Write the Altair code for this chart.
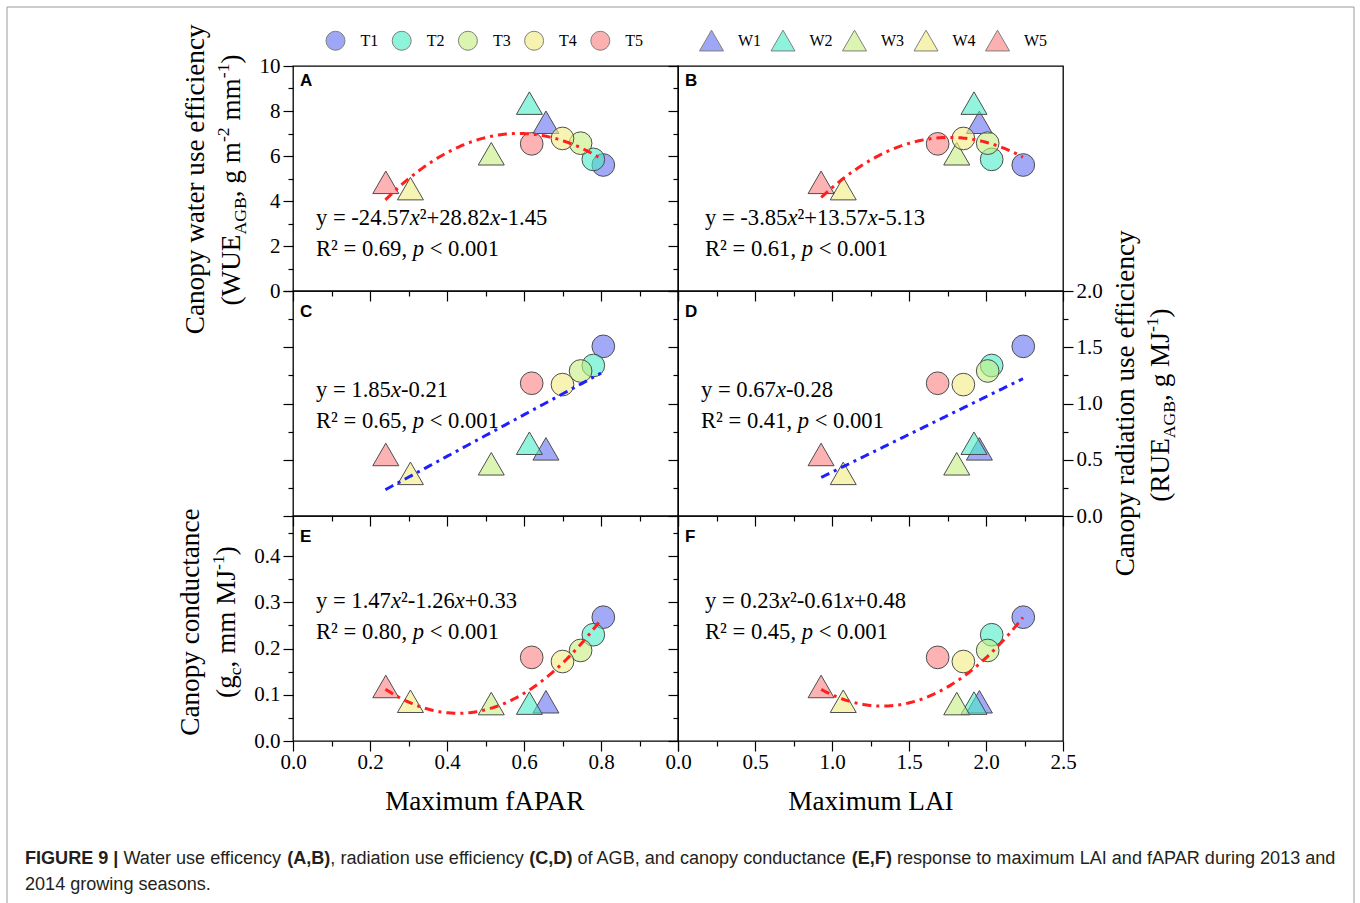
import altair as alt
import pandas as pd

# ---------------- data ----------------
treat_T = ["T1", "T2", "T3", "T4", "T5"]
treat_W = ["W1", "W2", "W3", "W4", "W5"]
fapar_T = [0.806, 0.780, 0.747, 0.700, 0.620]
fapar_W = [0.657, 0.614, 0.515, 0.305, 0.241]
lai_T = [2.242, 2.037, 2.011, 1.853, 1.686]
lai_W = [1.957, 1.922, 1.810, 1.073, 0.929]
wue_T = [5.60, 5.85, 6.57, 6.78, 6.54]
wue_W = [7.50, 8.35, 6.10, 4.55, 4.83]
rue_T = [1.508, 1.338, 1.289, 1.168, 1.180]
rue_W = [0.597, 0.647, 0.464, 0.379, 0.547]
gc_T = [0.268, 0.230, 0.196, 0.172, 0.181]
gc_W = [0.085, 0.082, 0.081, 0.086, 0.118]

# printed regression equations y = a*x^2 + b*x + c
fit_A = [-24.57, 28.82, -1.45]
fit_B = [-3.85, 13.57, -5.13]
fit_C = [0.0, 1.85, -0.21]
fit_D = [0.0, 0.67, -0.28]
fit_E = [1.47, -1.26, 0.33]
fit_F = [0.23, -0.61, 0.48]
fit_range_fapar = [0.24, 0.80]
fit_range_lai = [0.93, 2.24]

eq_text = {
    "A": ("-24.57", "+28.82", "-1.45", "0.69"),
    "B": ("-3.85", "+13.57", "-5.13", "0.61"),
    "E": ("1.47", "-1.26", "+0.33", "0.80"),
    "F": ("0.23", "-0.61", "+0.48", "0.45"),
}
eq_lin = {"C": ("1.85", "-0.21", "0.65"), "D": ("0.67", "-0.28", "0.41")}

colors = ["#6470f2", "#4aedc6", "#c6ee80", "#f2ec80", "#fb8080"]

# ---------------- layout constants ----------------
PW, PH = 385, 225
OX, OY = 293, 66
SERIF = "Liberation Serif"
SANS = "Liberation Sans"

TIMES = {' ': 250, '(': 333, ')': 333, ',': 250, '-': 333, '.': 250, '<': 564, '=': 564,
         '+': 564, '\u00b2': 300}
for d in "0123456789":
    TIMES[d] = 500
TIMES.update(dict(zip("ABCDEFGHIJKLMNOPQRSTUVWXYZ",
                      [722, 667, 667, 722, 611, 556, 722, 722, 333, 389, 722, 611, 889, 722, 722, 556,
                       722, 667, 556, 611, 722, 722, 944, 722, 722, 611])))
TIMES.update(dict(zip("abcdefghijklmnopqrstuvwxyz",
                      [444, 500, 444, 500, 444, 333, 500, 500, 278, 278, 500, 278, 778, 500, 500, 500,
                       500, 333, 389, 278, 500, 500, 722, 500, 500, 444])))
TIMES_I = dict(TIMES)
TIMES_I.update({'x': 444, 'p': 500})

ARIAL = {' ': 278, '(': 333, ')': 333, ',': 278, '.': 278, '|': 260, '-': 333}
for d in "0123456789":
    ARIAL[d] = 556
ARIAL.update(dict(zip("ABCDEFGHIJKLMNOPQRSTUVWXYZ",
                      [667, 667, 722, 722, 667, 611, 778, 722, 278, 500, 667, 556, 833, 722, 778, 667,
                       778, 722, 667, 611, 722, 667, 944, 667, 667, 611])))
ARIAL.update(dict(zip("abcdefghijklmnopqrstuvwxyz",
                      [556, 556, 500, 556, 556, 278, 556, 556, 222, 222, 500, 222, 833, 556, 556, 556,
                       556, 333, 500, 278, 556, 500, 722, 500, 500, 500])))
ARIAL_B = dict(ARIAL)
ARIAL_B.update({'|': 280, 'A': 722, 'B': 722, 'R': 722, 'U': 722})


def units(txt, kind, font):
    if font == SANS:
        tab = ARIAL_B if kind == "b" else ARIAL
    else:
        tab = TIMES_I if kind == "i" else TIMES
    return sum(tab.get(ch, 500) for ch in txt)


rows = []


def seg_props(kind, fs):
    size, shift, style, weight = fs, 0.0, "normal", "normal"
    if kind == "i":
        style = "italic"
    elif kind == "sub":
        size, shift = fs * 0.65, fs * 0.22
    elif kind == "sup":
        size, shift = fs * 0.65, -fs * 0.42
    elif kind == "b":
        weight = "bold"
    return size, shift, style, weight


def split_ws(t):
    core = t.strip(" ")
    lead = len(t) - len(t.lstrip(" "))
    return core, lead


def rich_h(segs, x0, y0, fs, font=SERIF, center=False, color="black"):
    total = sum(units(t, k, font) * seg_props(k, fs)[0] / 1000 for t, k in segs)
    x = x0 - total / 2 if center else x0
    for t, k in segs:
        size, shift, style, weight = seg_props(k, fs)
        core, lead = split_ws(t)
        lead_w = units(" " * lead, k, font) * size / 1000
        if core:
            rows.append(dict(px=x + lead_w - OX, py=y0 + shift - OY, txt=core, fs=size, ang=0,
                             font=font, style=style, weight=weight, col=color))
        x += units(t, k, font) * size / 1000


def rich_v(segs, xb, yc, fs, font=SERIF):
    total = sum(units(t, k, font) * seg_props(k, fs)[0] / 1000 for t, k in segs)
    cum = 0.0
    for t, k in segs:
        size, shift, style, weight = seg_props(k, fs)
        core, lead = split_ws(t)
        lead_w = units(" " * lead, k, font) * size / 1000
        if core:
            rows.append(dict(px=xb + shift - OX, py=yc + total / 2 - cum - lead_w - OY, txt=core,
                             fs=size, ang=270, font=font, style=style, weight=weight, col="black"))
        cum += units(t, k, font) * size / 1000


# equations
EQ_FS = 22.6
eq_pos = {"A": (316, 225), "B": (705, 225), "C": (316, 397), "D": (701, 397),
          "E": (316, 608), "F": (705, 608)}
for p, (a, b, c, r2) in eq_text.items():
    x0, y0 = eq_pos[p]
    rich_h([("y = " + a, "n"), ("x", "i"), ("\u00b2" + b, "n"), ("x", "i"), (c, "n")], x0, y0, EQ_FS)
    rich_h([("R\u00b2 = " + r2 + ", ", "n"), ("p", "i"), (" < 0.001", "n")], x0, y0 + 31, EQ_FS)
for p, (b, c, r2) in eq_lin.items():
    x0, y0 = eq_pos[p]
    rich_h([("y = " + b, "n"), ("x", "i"), (c, "n")], x0, y0, EQ_FS)
    rich_h([("R\u00b2 = " + r2 + ", ", "n"), ("p", "i"), (" < 0.001", "n")], x0, y0 + 31, EQ_FS)

# panel letters
for p, (x0, y0) in {"A": (300, 86), "B": (685, 86), "C": (300, 317), "D": (685, 317),
                    "E": (300, 542), "F": (685, 542)}.items():
    rich_h([(p, "b")], x0, y0, 17, font=SANS)

# axis titles
TFS = 27.2
rich_h([("Maximum fAPAR", "n")], 486, 810, TFS, center=True)
rich_h([("Maximum LAI", "n")], 871, 810, TFS, center=True)
rich_v([("Canopy water use efficiency", "n")], 204, 179, TFS)
rich_v([("(WUE", "n"), ("AGB", "sub"), (", g m", "n"), ("-2", "sup"), (" mm", "n"), ("-1", "sup"),
        (")", "n")], 240, 180, TFS)
rich_v([("Canopy conductance", "n")], 199, 622, TFS)
rich_v([("(g", "n"), ("c", "sub"), (", mm MJ", "n"), ("-1", "sup"), (")", "n")], 235, 622, TFS)
rich_v([("Canopy radiation use efficiency", "n")], 1134, 403, TFS)
rich_v([("(RUE", "n"), ("AGB", "sub"), (", g MJ", "n"), ("-1", "sup"), (")", "n")], 1169, 405, TFS)

# caption
cap1 = [("FIGURE 9 |", "b"), (" Water use efficency ", "n"), ("(A,B)", "b"),
        (", radiation use efficiency ", "n"), ("(C,D)", "b"),
        (" of AGB, and canopy conductance ", "n"), ("(E,F)", "b"),
        (" response to maximum LAI and fAPAR during 2013 and", "n")]
cap_units = sum(units(t, k, SANS) for t, k in cap1)
CAP_FS = 1312 * 1000 / cap_units
rich_h(cap1, 25, 864, CAP_FS, font=SANS, color="#231f20")
rich_h([("2014 growing seasons.", "n")], 25, 890, CAP_FS, font=SANS, color="#231f20")

text_df = pd.DataFrame(rows)


def text_layers():
    out = []
    for (font, style, weight), sub in text_df.groupby(["font", "style", "weight"]):
        out.append(
            alt.Chart(sub).mark_text(font=font, fontStyle=style, fontWeight=weight, align="left",
                                     baseline="alphabetic").encode(
                x=alt.X("px:Q", scale=None, axis=None),
                y=alt.Y("py:Q", scale=None, axis=None),
                text="txt:N",
                size=alt.Size("fs:Q", scale=None, legend=None),
                angle=alt.Angle("ang:Q", scale=None),
                color=alt.Color("col:N", scale=None, legend=None),
            )
        )
    return out


# ---------------- axes ----------------
def mk_axis(orient, values, major, labels=False, fmt=".1f", label_ok=None, pad=3):
    d = dict(orient=orient, values=values, domain=False, grid=False, ticks=True,
             tickColor="black", tickWidth=1.2,
             tickSize={"condition": {"test": major, "value": 10}, "value": 5},
             labels=labels, title=None)
    if labels:
        test = major if label_ok is None else f"({major}) && ({label_ok})"
        d.update(format=fmt, labelFont=SERIF, labelFontSize=21, labelColor="black",
                 labelExpr=f"({test}) ? datum.label : ''", labelPadding=pad,
                 labelOverlap=False, labelFlush=False, labelBound=False)
    return alt.Axis(**d)


fapar_ticks = [round(i * 0.1, 2) for i in range(11)]
lai_ticks = [i * 0.25 for i in range(11)]
wue_ticks = list(range(0, 11))
rue_ticks = [i * 0.25 for i in range(9)]
gc_ticks = [round(i * 0.05, 2) for i in range(10)]

M_FAPAR = "abs(datum.value*5 - round(datum.value*5)) < 1e-6"
M_HALF = "abs(datum.value*2 - round(datum.value*2)) < 1e-6"
M_WUE = "datum.value % 2 == 0"
M_GC = "abs(datum.value*10 - round(datum.value*10)) < 1e-6"

xs_f = alt.Scale(domain=[0, 1.0], nice=False, zero=False)
xs_l = alt.Scale(domain=[0, 2.5], nice=False, zero=False)
ys_w = alt.Scale(domain=[0, 10], nice=False, zero=False)
ys_r = alt.Scale(domain=[0, 2.0], nice=False, zero=False)
ys_g = alt.Scale(domain=[0, 0.487], nice=False, zero=False)

legT = alt.Legend(orient="none", legendX=32.5, legendY=-35.5, direction="horizontal", title=None,
                  symbolType="circle", symbolSize=361, symbolStrokeColor="#333333",
                  symbolStrokeWidth=1, symbolOpacity=0.62, labelFont=SERIF, labelFontSize=16,
                  labelColor="black", labelOffset=15, columnPadding=11.2, padding=0)
legW = alt.Legend(orient="none", legendX=406, legendY=-38, direction="horizontal", title=None,
                  symbolType="triangle-up", symbolSize=576, symbolStrokeColor="#333333",
                  symbolStrokeWidth=1, symbolOpacity=0.62, labelFont=SERIF, labelFontSize=16,
                  labelColor="black", labelOffset=14, columnPadding=6.5, padding=0)


def panel(xT, xW, yT, yW, xs, ys, xaxis, yaxis, fit, rng, line_color, extra=None, right_axis=None):
    dT = pd.DataFrame({"x": xT, "y": yT, "g": treat_T})
    dW = pd.DataFrame({"x": xW, "y": yW, "g": treat_W})
    tri = alt.Chart(dW).mark_point(shape="triangle-up", filled=True, size=676, stroke="#4d4d4d",
                                   strokeWidth=1, fillOpacity=0.6, opacity=1).encode(
        x=alt.X("x:Q", scale=xs, axis=xaxis),
        y=alt.Y("y:Q", scale=ys, axis=yaxis),
        color=alt.Color("g:N", scale=alt.Scale(domain=treat_W, range=colors), legend=legW),
    )
    circ = alt.Chart(dT).mark_point(shape="circle", filled=True, size=515, stroke="#4d4d4d",
                                    strokeWidth=1, fillOpacity=0.6, opacity=1).encode(
        x=alt.X("x:Q", scale=xs, axis=xaxis),
        y=alt.Y("y:Q", scale=ys, axis=right_axis if right_axis is not None else yaxis),
        fill=alt.Fill("g:N", scale=alt.Scale(domain=treat_T, range=colors), legend=legT),
    )
    a, b, c = fit
    step = (rng[1] - rng[0]) / 120
    line = alt.Chart(alt.sequence(rng[0], rng[1] + step / 2, step, as_="x")).transform_calculate(
        y=f"{a}*datum.x*datum.x + ({b})*datum.x + ({c})"
    ).mark_line(color=line_color, strokeWidth=3, strokeDash=[9, 5, 3, 5]).encode(
        x=alt.X("x:Q", scale=xs, axis=xaxis),
        y=alt.Y("y:Q", scale=ys, axis=None if right_axis is not None else yaxis),
    )
    layers = [tri, circ, line] + (extra or [])
    ch = alt.layer(*layers).properties(width=PW, height=PH)
    if right_axis is not None:
        ch = ch.resolve_axis(y="independent")
    return ch


RED = "#ff1f1f"
BLUE = "#1f1fff"

ax_xf_in = mk_axis("bottom", fapar_ticks, M_FAPAR)
ax_xl_in = mk_axis("bottom", lai_ticks, M_HALF)
ax_xf_lab = mk_axis("bottom", fapar_ticks, M_FAPAR, labels=True, label_ok="datum.value < 0.99", pad=0)
ax_xl_lab = mk_axis("bottom", lai_ticks, M_HALF, labels=True, pad=0)

pA = panel(fapar_T, fapar_W, wue_T, wue_W, xs_f, ys_w, ax_xf_in,
           mk_axis("left", wue_ticks, M_WUE, labels=True, fmt="d"), fit_A, fit_range_fapar, RED,
           extra=text_layers() + [
               alt.Chart(pd.DataFrame({"k": [0]})).mark_rect(fill=None, stroke="#9a9a9a", strokeWidth=1).encode(
                   x=alt.value(7 - OX), x2=alt.value(1354 - OX), y=alt.value(7 - OY), y2=alt.value(915 - OY))
           ])
pB = panel(lai_T, lai_W, wue_T, wue_W, xs_l, ys_w, ax_xl_in,
           mk_axis("left", wue_ticks, M_WUE), fit_B, fit_range_lai, RED)
pC = panel(fapar_T, fapar_W, rue_T, rue_W, xs_f, ys_r, ax_xf_in,
           mk_axis("left", rue_ticks, M_HALF), fit_C, fit_range_fapar, BLUE)
pD = panel(lai_T, lai_W, rue_T, rue_W, xs_l, ys_r, ax_xl_in,
           mk_axis("left", rue_ticks, M_HALF), fit_D, fit_range_lai, BLUE,
           right_axis=mk_axis("right", rue_ticks, M_HALF, labels=True))
pE = panel(fapar_T, fapar_W, gc_T, gc_W, xs_f, ys_g, ax_xf_lab,
           mk_axis("left", gc_ticks, M_GC, labels=True), fit_E, fit_range_fapar, RED)
pF = panel(lai_T, lai_W, gc_T, gc_W, xs_l, ys_g, ax_xl_lab,
           mk_axis("left", gc_ticks, M_GC), fit_F, fit_range_lai, RED)

chart = alt.concat(pA, pB, pC, pD, pE, pF, columns=2, spacing=0, bounds="flush").properties(
    padding={"left": 5, "top": 5, "right": 0, "bottom": 0},
    background="white",
).configure_view(stroke="black", strokeWidth=1.3)

chart.save("out.html", embed_options={"renderer": "svg", "actions": False})
